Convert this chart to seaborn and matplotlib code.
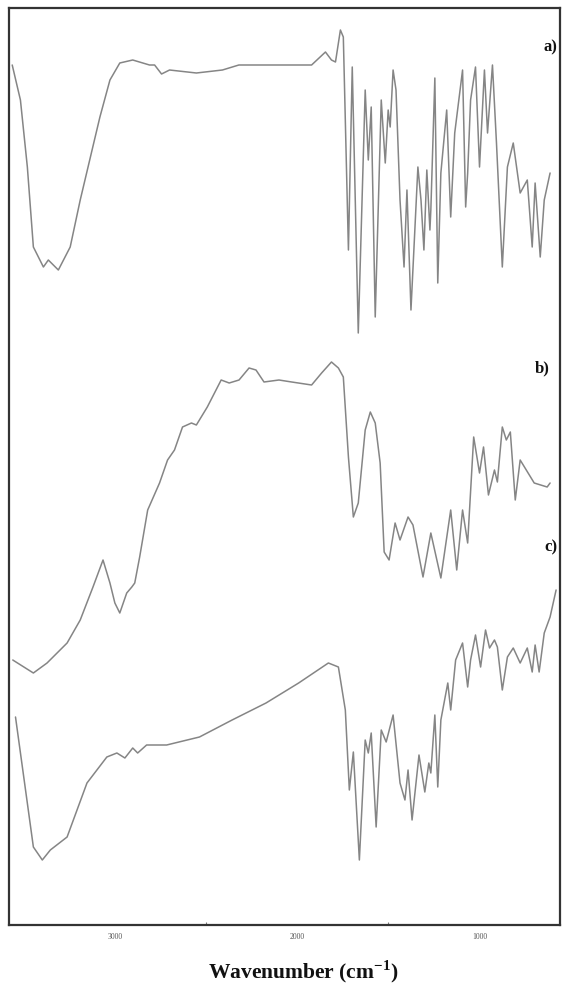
import matplotlib
matplotlib.use("Agg")
import matplotlib.pyplot as plt
from matplotlib.ticker import FixedLocator
import seaborn as sns
import pandas as pd

# FTIR spectra (wavenumber in cm-1, transmittance in a.u.)
wn_a = [3563, 3518, 3480, 3447, 3392, 3365, 3310, 3245, 3190, 3125, 3082, 3027,
        2973, 2902, 2810, 2782, 2744, 2700, 2553, 2410, 2320, 2084, 1992, 1921,
        1845, 1812, 1790, 1763, 1747, 1719, 1698, 1665, 1627, 1610, 1594, 1572,
        1539, 1517, 1501, 1490, 1474, 1458, 1436, 1414, 1398, 1376, 1338, 1321,
        1305, 1289, 1272, 1267, 1245, 1229, 1212, 1180, 1158, 1136, 1093, 1076,
        1065, 1049, 1022, 1000, 973, 956, 929, 907, 875, 847, 815, 777, 738, 711,
        695, 667, 645, 613]
t_a = [93.5, 90.0, 83.3, 75.3, 73.3, 74.0, 73.0, 75.3, 80.0, 85.0, 88.3, 92.0,
       93.7, 94.0, 93.5, 93.5, 92.6, 93.0, 92.7, 93.0, 93.5, 93.5, 93.5, 93.5,
       94.8, 94.0, 93.8, 97.0, 96.3, 75.0, 93.3, 66.7, 91.0, 84.0, 89.3, 68.3,
       90.0, 83.7, 89.0, 87.3, 93.0, 91.0, 80.0, 73.3, 81.0, 69.0, 83.3, 80.0,
       75.0, 83.0, 77.0, 79.0, 92.2, 71.7, 82.7, 89.0, 78.3, 86.7, 93.0, 79.3,
       82.7, 90.0, 93.3, 83.3, 93.0, 86.7, 93.5, 85.7, 73.3, 83.3, 85.7, 80.7,
       82.0, 75.3, 81.7, 74.3, 80.0, 82.7]

wn_b = [3560, 3447, 3372, 3262, 3190, 3120, 3065, 3027, 3000, 2973, 2935, 2907,
        2891, 2864, 2820, 2755, 2711, 2673, 2629, 2580, 2553, 2493, 2417, 2373,
        2319, 2264, 2226, 2182, 2100, 2030, 1921, 1866, 1812, 1774, 1747, 1719,
        1692, 1665, 1627, 1599, 1572, 1545, 1523, 1496, 1463, 1436, 1392, 1365,
        1310, 1267, 1212, 1158, 1125, 1093, 1065, 1032, 1000, 978, 951, 918, 902,
        875, 853, 831, 804, 777, 700, 629, 613]
t_b = [34.0, 32.7, 33.7, 35.7, 38.0, 41.3, 44.0, 41.7, 39.7, 38.7, 40.7, 41.3,
       41.7, 44.3, 49.0, 51.7, 54.0, 55.0, 57.3, 57.7, 57.5, 59.3, 62.0, 61.7,
       62.0, 63.2, 63.0, 61.8, 62.0, 61.8, 61.5, 62.7, 63.8, 63.2, 62.3, 54.3,
       48.3, 49.7, 57.0, 58.8, 57.7, 53.7, 44.8, 44.0, 47.7, 46.0, 48.3, 47.5,
       42.3, 46.7, 42.2, 49.0, 43.0, 49.0, 45.7, 56.3, 52.7, 55.3, 50.5, 53.0,
       51.8, 57.3, 56.0, 56.8, 50.0, 54.0, 51.7, 51.3, 51.7]

wn_c = [3545, 3447, 3398, 3354, 3262, 3153, 3044, 2989, 2945, 2902, 2875, 2826,
        2716, 2536, 2357, 2171, 1992, 1829, 1774, 1736, 1714, 1692, 1659, 1627,
        1610, 1594, 1567, 1539, 1512, 1474, 1436, 1409, 1392, 1370, 1332, 1300,
        1278, 1267, 1245, 1229, 1212, 1174, 1158, 1131, 1093, 1065, 1049, 1022,
        994, 967, 945, 918, 902, 875, 847, 815, 777, 738, 711, 695, 673, 645,
        613, 580]
t_c = [28.3, 15.3, 14.0, 15.0, 16.3, 21.7, 24.3, 24.7, 24.2, 25.2, 24.7, 25.5,
       25.5, 26.3, 28.0, 29.7, 31.7, 33.7, 33.3, 29.0, 21.0, 24.8, 14.0, 26.0,
       24.7, 26.7, 17.3, 27.0, 25.8, 28.5, 21.7, 20.0, 23.0, 18.0, 24.5, 20.8,
       23.7, 22.7, 28.5, 21.3, 28.0, 31.7, 29.0, 34.0, 35.7, 31.3, 34.0, 36.5,
       33.3, 37.0, 35.2, 36.0, 35.3, 31.0, 34.3, 35.2, 33.7, 35.2, 32.8, 35.5,
       32.8, 36.7, 38.3, 41.0]

panel_labels = ["a)", "b)", "c)"]
tick_values = [3000, 2000, 1000]
tick_labels = ["3000", "2000", "1000"]

sns.set_theme(style="white")
plt.rcParams["font.family"] = ["Liberation Serif", "DejaVu Serif"]
plt.rcParams["mathtext.fontset"] = "custom"
plt.rcParams["mathtext.rm"] = "Liberation Serif"
plt.rcParams["mathtext.bf"] = "Liberation Serif:bold"

frames = []
for name, wn, t in zip(panel_labels, [wn_a, wn_b, wn_c], [t_a, t_b, t_c]):
    frames.append(pd.DataFrame({"wavenumber": wn, "T": t, "sample": name}))
df = pd.concat(frames, ignore_index=True)

fig, ax = plt.subplots(figsize=(5.7, 10), dpi=100)
fig.subplots_adjust(left=0.016, right=0.982, top=0.992, bottom=0.075)

for name in panel_labels:
    sub = df[df["sample"] == name]
    sns.lineplot(data=sub, x="wavenumber", y="T", ax=ax, sort=False,
                 estimator=None, color="#858585", linewidth=1.1)

ax.set_xlim(3580, 560)
ax.set_ylim(7.5, 99.2)
ax.set_xticks(tick_values)
ax.set_xticklabels(tick_labels)
ax.xaxis.set_minor_locator(FixedLocator([2500, 1500]))
ax.tick_params(axis="x", which="major", direction="in", length=4, width=0.8,
               labelsize=5.5, labelcolor="#555555", color="#777777", pad=6)
ax.tick_params(axis="x", which="minor", direction="in", length=2, width=0.8,
               color="#777777", bottom=True)
ax.set_yticks([])
ax.set_xlabel("")
ax.set_ylabel("")

for side, sp in ax.spines.items():
    sp.set_visible(True)
    sp.set_color("#333333")
    sp.set_linewidth(1.6)

# panel tags
label_pos = [(0.996, 0.957), (0.982, 0.607), (0.996, 0.412)]
for lab, (x, y) in zip(panel_labels, label_pos):
    ax.text(x, y, lab, transform=ax.transAxes, ha="right", va="center",
            fontsize=12, fontweight="bold", color="#111111")

fig.text(0.532, 0.028, r"Wavenumber (cm$^{\mathbf{-1}}$)", ha="center",
         va="center", fontsize=15.5, fontweight="bold", color="#111111")

fig.savefig("out.png", dpi=100)
